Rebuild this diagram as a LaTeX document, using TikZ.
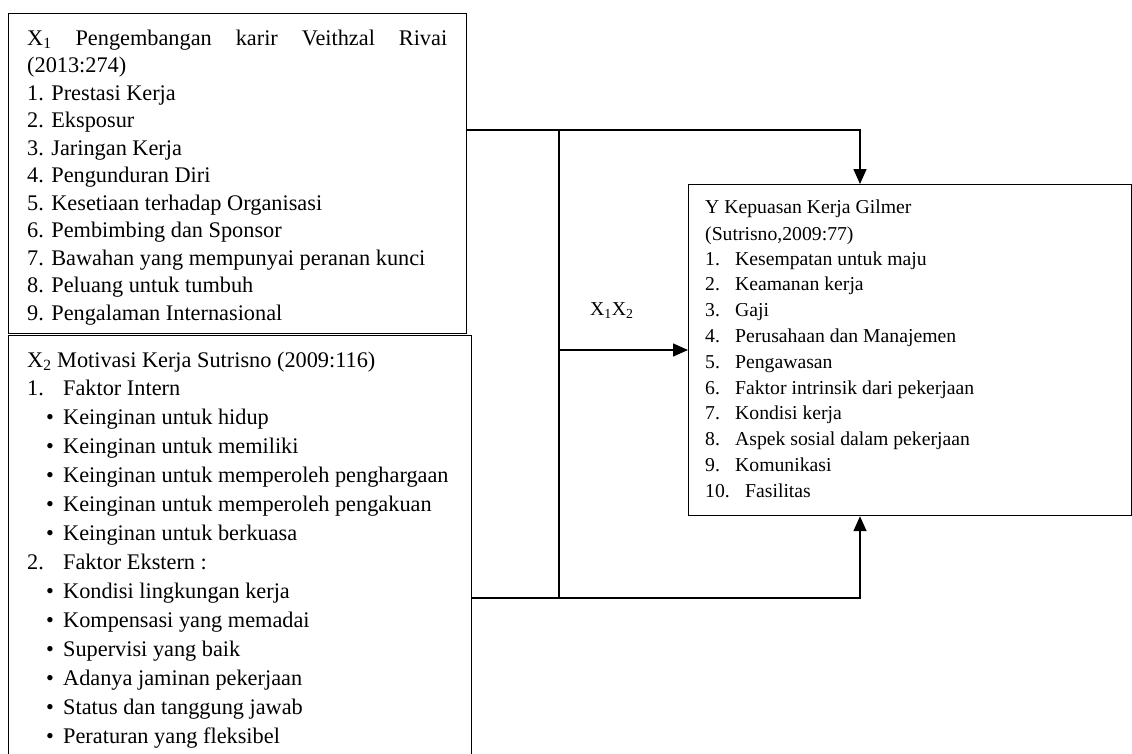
\documentclass[tikz,border=0pt]{standalone}
\usepackage{fontspec}
\setmainfont{Liberation Serif}
\usetikzlibrary{arrows.meta,calc}
\tikzset{
  box/.style={draw, line width=1.2pt, inner sep=0pt, anchor=north west},
  txt/.style={anchor=base west, inner sep=0pt, font=\fontsize{22.3}{27}\selectfont},
  ytxt/.style={txt, font=\fontsize{19.7}{24}\selectfont},
  conn/.style={line width=1.5pt},
  arr/.style={conn, -{Triangle[length=15pt,width=13pt]}},
}
\begin{document}
\begin{tikzpicture}[x=1pt,y=-1pt]
\useasboundingbox (0,0) rectangle (1132,753);
\clip (0,0) rectangle (1132,753);
% boxes
\node[box, minimum width=458pt, minimum height=320pt] (x1box) at (8,13) {};
\node[box, minimum width=463pt, minimum height=480pt] (x2box) at (8,335) {};
\node[box, minimum width=443pt, minimum height=331pt] (ybox) at (688,184) {};
% X1 text
\node[txt] (x1t0) at (27,45) {\makebox[420pt][s]{X\textsubscript{1} Pengembangan karir Veithzal Rivai}};
\node[txt] (x1t00) at (27,72) {(2013:274)};
\foreach \t [count=\i] in {1. Prestasi Kerja, 2. Eksposur, 3. Jaringan Kerja, 4. Pengunduran Diri, 5. Kesetiaan terhadap Organisasi, 6. Pembimbing dan Sponsor, 7. Bawahan yang mempunyai peranan kunci, 8. Peluang untuk tumbuh, 9. Pengalaman Internasional}
  \node[txt] (x1t\i) at (27,{100+27.5*(\i-1)}) {\t};
% X2 text
\node[txt] (x2t0) at (27,367) {X\textsubscript{2} Motivasi Kerja Sutrisno (2009:116)};
\node[txt] (x2n1) at (27,395) {\makebox[36pt][l]{1.}Faktor Intern};
\foreach \t [count=\i] in {Keinginan untuk hidup, Keinginan untuk memiliki, Keinginan untuk memperoleh penghargaan, Keinginan untuk memperoleh pengakuan, Keinginan untuk berkuasa}
  \node[txt] (x2a\i) at (46,{395+29*\i}) {\makebox[17pt][l]{\textbullet}\t};
\node[txt] (x2n2) at (27,569) {\makebox[36pt][l]{2.}Faktor Ekstern :};
\foreach \t [count=\i] in {Kondisi lingkungan kerja, Kompensasi yang memadai, Supervisi yang baik, Adanya jaminan pekerjaan, Status dan tanggung jawab, Peraturan yang fleksibel}
  \node[txt] (x2b\i) at (46,{569+29*\i}) {\makebox[17pt][l]{\textbullet}\t};
% Y text
\node[ytxt] (yt0) at (705,213) {Y Kepuasan Kerja Gilmer};
\node[ytxt] (yt00) at (705,240) {(Sutrisno,2009:77)};
\foreach \t [count=\i] in {Kesempatan untuk maju, Keamanan kerja, Gaji, Perusahaan dan Manajemen, Pengawasan, Faktor intrinsik dari pekerjaan, Kondisi kerja, Aspek sosial dalam pekerjaan, Komunikasi}
  \node[ytxt] (yt\i) at (705,{265+25.8*(\i-1)}) {\makebox[30pt][l]{\i.}\t};
\node[ytxt] (yt10) at (705,497) {\makebox[40pt][l]{10.}Fasilitas};
% label
\node[ytxt] (lab) at (590,315) {X\textsubscript{1}X\textsubscript{2}};
% connectors
\coordinate (jt) at (559,130);
\coordinate (jb) at (559,598);
\coordinate (jm) at (559,350);
\coordinate (tt) at (860,130);
\coordinate (bb) at (860,598);
\draw[arr] (x1box.east |- jt) -| (ybox.north -| tt);
\draw[conn] (jt) -- (jb);
\draw[arr] (jm) -- (ybox.west |- jm);
\draw[arr] (x2box.east |- bb) -| (ybox.south -| bb);
\end{tikzpicture}
\end{document}
